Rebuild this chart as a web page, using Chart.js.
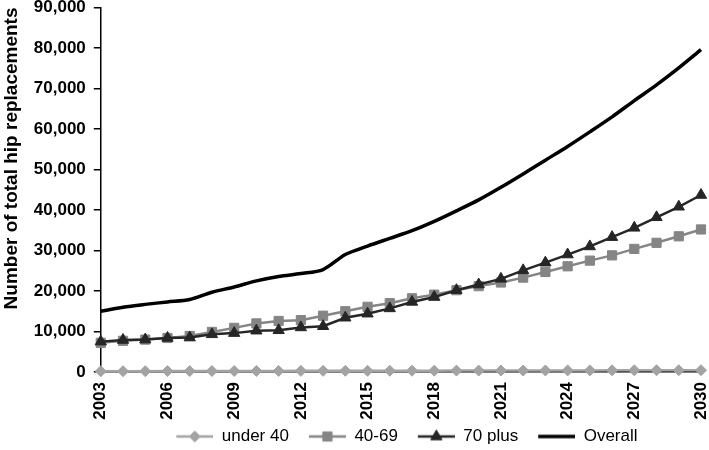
<!DOCTYPE html>
<html>
<head>
<meta charset="utf-8">
<script src="https://cdn.jsdelivr.net/npm/chart.js@4"></script>
<style>
  html, body { margin: 0; padding: 0; background: #fff; }
  #wrap { width: 709px; height: 450px; }
</style>
</head>
<body>
<div id="wrap"><canvas id="c" width="709" height="450"></canvas></div>
<script>
const years = [2003,2004,2005,2006,2007,2008,2009,2010,2011,2012,2013,2014,2015,2016,2017,2018,2019,2020,2021,2022,2023,2024,2025,2026,2027,2028,2029,2030];
const under40 = [200,200,210,220,230,240,250,260,270,280,290,300,300,310,320,330,340,350,360,370,380,390,400,410,420,430,440,450];
const age40to69 = [7200,7700,8000,8400,8900,9900,10900,12000,12600,12800,13900,15000,16100,17000,18200,19100,20200,21200,22100,23300,24700,26100,27500,28800,30400,31900,33500,35200];
const age70plus = [7500,7900,8000,8400,8500,9300,9600,10200,10300,11000,11300,13400,14400,15700,17300,18500,20200,21600,23000,25100,27000,29000,31000,33300,35600,38200,40800,43700];
const overall = [15000,16000,16700,17300,17900,19700,21000,22500,23600,24300,25300,29000,31100,33000,34900,37200,39800,42500,45600,48900,52300,55700,59300,63000,67000,70900,75100,79600];
const seriesNames = ['under 40','40-69','70 plus','Overall'];
const yTitle = 'Number of total hip replacements';

const FONT = "'Liberation Sans', Arial, sans-serif";

const datasets = [
  { label: seriesNames[0], data: under40, borderColor: '#a3a3a3', backgroundColor: '#a3a3a3',
    borderWidth: 2.5, pointStyle: 'rectRot', pointRadius: 5.5, pointBorderWidth: 1, order: 0, tension: 0 },
  { label: seriesNames[1], data: age40to69, borderColor: '#858585', backgroundColor: '#858585',
    borderWidth: 2.5, pointStyle: 'rect', pointRadius: 6.5, pointBorderWidth: 1, order: 2, tension: 0 },
  { label: seriesNames[2], data: age70plus, borderColor: '#262626', backgroundColor: '#262626',
    borderWidth: 2.5, pointStyle: 'triangle', pointRadius: 6.5, pointBorderWidth: 1, order: 1, tension: 0 },
  { label: seriesNames[3], data: overall, borderColor: '#000000', backgroundColor: '#000000',
    borderWidth: 3.5, pointStyle: false, pointRadius: 0, order: 3, tension: 0.3 }
];

const LEG_LEAD = 12, LEG_LINE = 37;
function legendImage(ds) {
  const w = LEG_LEAD + LEG_LINE, h = 16;
  const cv = document.createElement('canvas');
  cv.width = w; cv.height = h;
  const ctx = cv.getContext('2d');
  ctx.strokeStyle = ds.borderColor;
  ctx.lineWidth = ds.borderWidth;
  ctx.beginPath();
  ctx.moveTo(LEG_LEAD, h / 2);
  ctx.lineTo(w, h / 2);
  ctx.stroke();
  if (ds.pointStyle) {
    ctx.fillStyle = ds.backgroundColor;
    ctx.strokeStyle = ds.borderColor;
    ctx.lineWidth = ds.pointBorderWidth;
    Chart.helpers.drawPoint(ctx, { pointStyle: ds.pointStyle, radius: ds.pointRadius, rotation: 0, borderWidth: ds.pointBorderWidth }, LEG_LEAD + LEG_LINE / 2, h / 2);
  }
  return cv;
}

new Chart(document.getElementById('c'), {
  type: 'line',
  data: { labels: years.map(String), datasets },
  options: {
    responsive: false,
    animation: false,
    devicePixelRatio: 1,
    layout: { padding: { left: 0, right: 0, top: 0, bottom: 0 } },
    datasets: { line: { clip: false } },
    plugins: {
      tooltip: { enabled: false },
      legend: {
        position: 'bottom',
        fullSize: false,
        maxHeight: 30,
        labels: {
          usePointStyle: true,
          pointStyleWidth: LEG_LEAD + LEG_LINE,
          padding: 8,
          color: '#000',
          font: { family: FONT, size: 17 },
          generateLabels: (chart) => chart.data.datasets.map((ds, i) => ({
            text: ds.label,
            pointStyle: legendImage(ds),
            fillStyle: ds.backgroundColor,
            strokeStyle: ds.borderColor,
            lineWidth: 0,
            hidden: false,
            datasetIndex: i,
            fontColor: '#000'
          }))
        }
      }
    },
    scales: {
      x: {
        offset: false,
        grid: { display: false, drawTicks: false },
        border: { color: '#000', width: 1.5 },
        afterFit: (s) => { s.paddingRight = 8; s.paddingLeft = 0; s.height = 48; },
        ticks: {
          autoSkip: false,
          maxRotation: 90,
          minRotation: 90,
          padding: 10,
          color: '#000',
          font: { family: FONT, size: 17, weight: 'bold' },
          callback: function(v, i) { return i % 3 === 0 ? this.getLabelForValue(v) : ''; }
        }
      },
      y: {
        min: 0,
        max: 90000,
        grid: { drawOnChartArea: false, drawTicks: true, tickLength: 7, color: '#000', lineWidth: 1.5 },
        border: { color: '#000', width: 1.5 },
        afterFit: (s) => { s.paddingTop = 6; s.paddingBottom = 0; },
        ticks: {
          stepSize: 10000,
          padding: 8,
          color: '#000',
          font: { family: FONT, size: 17, weight: 'bold' },
          callback: (v) => v.toLocaleString('en-US')
        },
        title: {
          display: true,
          text: yTitle,
          align: 'end',
          color: '#000',
          font: { family: FONT, size: 19, weight: 'bold' },
          padding: { top: 0, bottom: 3 }
        }
      }
    }
  }
});
</script>
</body>
</html>
